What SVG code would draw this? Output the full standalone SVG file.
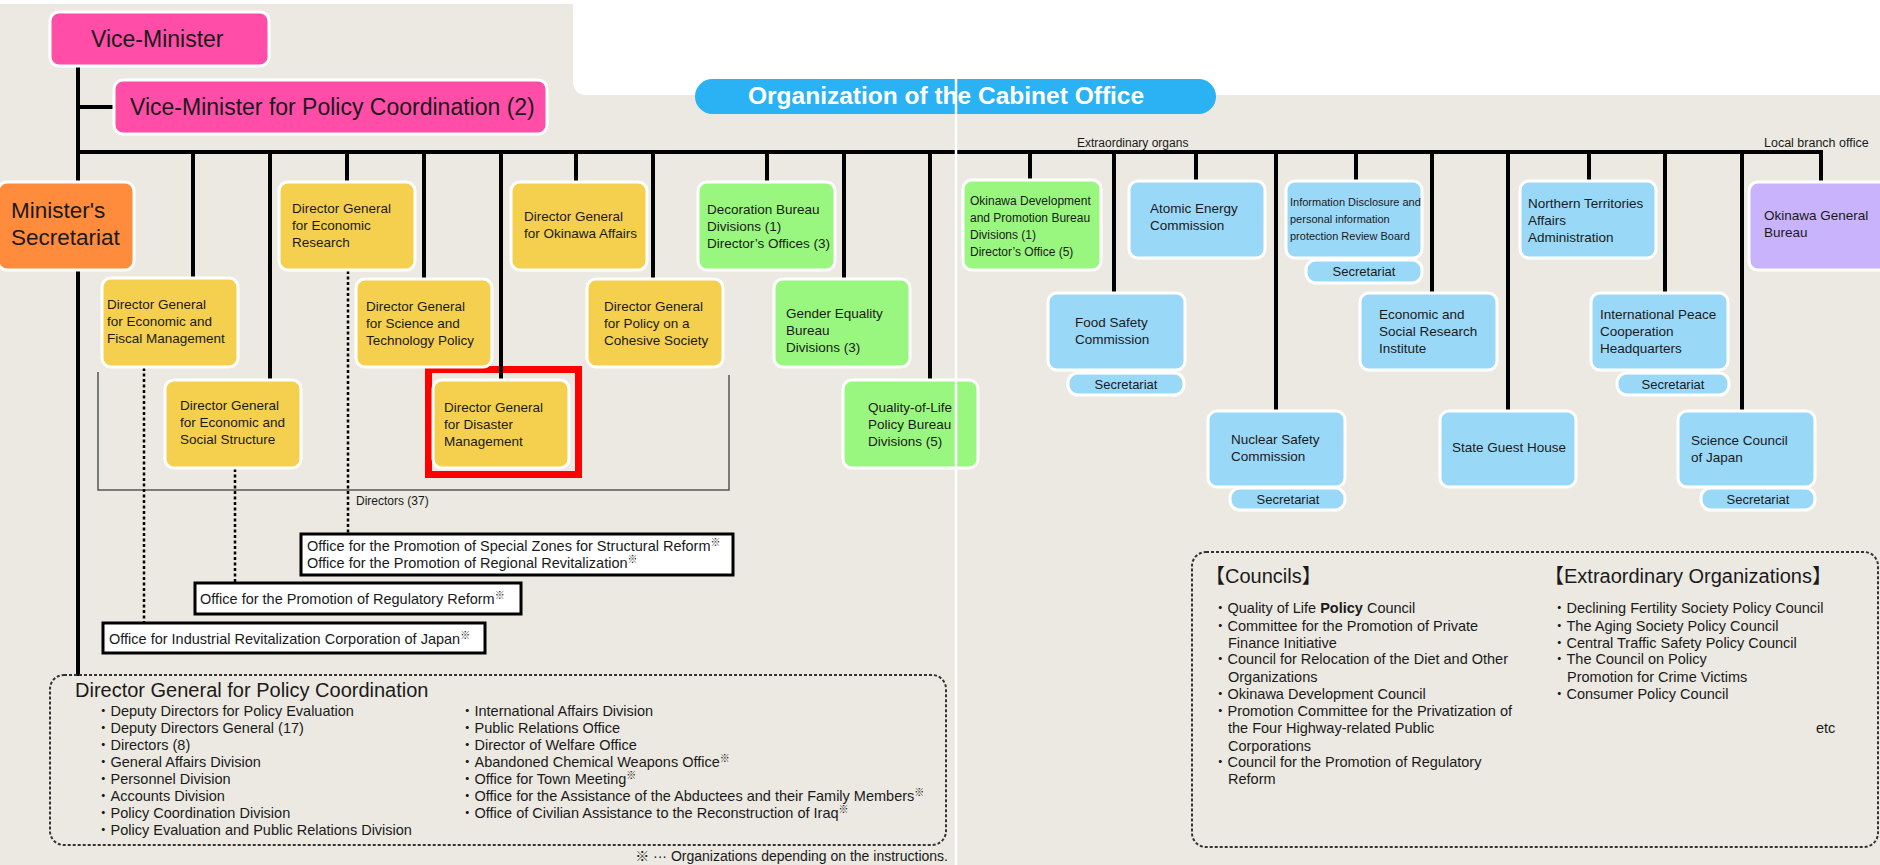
<svg xmlns="http://www.w3.org/2000/svg" width="1880" height="865" viewBox="0 0 1880 865">
<style>
text{font-family:"Liberation Sans",Arial,"Noto Sans CJK JP",sans-serif;fill:#1a1a1a}
.n rect{stroke:#fff;stroke-width:3}
.y{fill:#F5D04E}.g{fill:#99F77F}.b{fill:#9AD8F8}.p{fill:#C8B3FC}.pk{fill:#FF4DA8}.o{fill:#FF8B3C}
.t{font-size:13.5px}
.s{font-size:13px;text-anchor:middle}
.c line{stroke:#000;stroke-width:4}
.c .d{stroke-width:2.5;stroke-dasharray:3 2.5}
.ob rect{fill:#fff;stroke:#000;stroke-width:3}
.ob text{font-size:14.5px}
.db{fill:none;stroke:#333;stroke-width:2;stroke-dasharray:3 2}
.l{font-size:14.5px}
.sup{font-size:10px}
</style>
<rect width="1880" height="865" fill="#EBE9E1"/>
<rect width="1880" height="4" fill="#fff"/>
<path d="M573 0H1880V95H587Q573 95 573 81Z" fill="#fff"/>

<g id="title">
<rect x="695" y="79" width="521" height="35" rx="17.5" fill="#2AB2F4"/>
<text x="748" y="104" font-size="24.5" font-weight="bold" style="fill:#fff">Organization of the Cabinet Office</text>
</g>

<g id="directors-bracket">
<polyline points="98,372 98,490 729,490 729,375" fill="none" stroke="#555" stroke-width="1.5"/>
<text x="356" y="505" font-size="12">Directors (37)</text>
</g>

<rect id="highlight" x="428.5" y="369.5" width="150" height="105" fill="none" stroke="#FF0000" stroke-width="7"/>

<g id="connectors" class="c">
<line x1="78" y1="64" x2="78" y2="676"/>
<line x1="76" y1="107" x2="116" y2="107"/>
<line x1="76" y1="152" x2="1823" y2="152"/>
<line x1="193" y1="150" x2="193" y2="280"/>
<line x1="270" y1="150" x2="270" y2="382"/>
<line x1="347" y1="150" x2="347" y2="184"/>
<line x1="424" y1="150" x2="424" y2="281"/>
<line x1="501" y1="150" x2="501" y2="382"/>
<line x1="576" y1="150" x2="576" y2="184"/>
<line x1="653" y1="150" x2="653" y2="281"/>
<line x1="767" y1="150" x2="767" y2="184"/>
<line x1="844" y1="150" x2="844" y2="281"/>
<line x1="930" y1="150" x2="930" y2="382"/>
<line x1="1030" y1="150" x2="1030" y2="182"/>
<line x1="1114" y1="150" x2="1114" y2="295"/>
<line x1="1196" y1="150" x2="1196" y2="183"/>
<line x1="1276" y1="150" x2="1276" y2="413"/>
<line x1="1356" y1="150" x2="1356" y2="183"/>
<line x1="1432" y1="150" x2="1432" y2="295"/>
<line x1="1508" y1="150" x2="1508" y2="413"/>
<line x1="1589" y1="150" x2="1589" y2="183"/>
<line x1="1665" y1="150" x2="1665" y2="295"/>
<line x1="1742" y1="150" x2="1742" y2="413"/>
<line x1="1821" y1="150" x2="1821" y2="184"/>
<line class="d" x1="144" y1="368" x2="144" y2="622"/>
<line class="d" x1="235" y1="469" x2="235" y2="582"/>
<line class="d" x1="348" y1="271" x2="348" y2="533"/>
</g>

<g id="vice-minister" class="n"><rect class="pk" x="50" y="12" width="219" height="54" rx="9"/><text x="91" y="47" font-size="23">Vice-Minister</text></g>
<g id="vice-minister-policy" class="n"><rect class="pk" x="114" y="80" width="433" height="54" rx="9"/><text x="130" y="115" font-size="23">Vice-Minister for Policy Coordination (2)</text></g>
<g id="ministers-secretariat" class="n"><rect class="o" x="-2" y="182" width="136" height="88" rx="9"/><text x="11" y="218" font-size="22.5">Minister's</text><text x="11" y="245" font-size="22.5">Secretariat</text></g>

<g id="dg-econ-fiscal" class="n"><rect class="y" x="102" y="278" width="136" height="89" rx="9"/><text class="t" x="107" y="309">Director General</text><text class="t" x="107" y="326">for Economic and</text><text class="t" x="107" y="343">Fiscal Management</text></g>
<g id="dg-econ-social" class="n"><rect class="y" x="165" y="380" width="136" height="88" rx="9"/><text class="t" x="180" y="410">Director General</text><text class="t" x="180" y="427">for Economic and</text><text class="t" x="180" y="444">Social Structure</text></g>
<g id="dg-econ-research" class="n"><rect class="y" x="279" y="182" width="136" height="88" rx="9"/><text class="t" x="292" y="213">Director General</text><text class="t" x="292" y="230">for Economic</text><text class="t" x="292" y="247">Research</text></g>
<g id="dg-sci-tech" class="n"><rect class="y" x="356" y="279" width="136" height="88" rx="9"/><text class="t" x="366" y="311">Director General</text><text class="t" x="366" y="328">for Science and</text><text class="t" x="366" y="345">Technology Policy</text></g>
<g id="dg-disaster" class="n"><rect class="y" x="433" y="380" width="136" height="88" rx="9"/><text class="t" x="444" y="412">Director General</text><text class="t" x="444" y="429">for Disaster</text><text class="t" x="444" y="446">Management</text></g>
<g id="dg-okinawa" class="n"><rect class="y" x="511" y="182" width="136" height="88" rx="9"/><text class="t" x="524" y="221">Director General</text><text class="t" x="524" y="238">for Okinawa Affairs</text></g>
<g id="dg-cohesive" class="n"><rect class="y" x="587" y="279" width="136" height="88" rx="9"/><text class="t" x="604" y="311">Director General</text><text class="t" x="604" y="328">for Policy on a</text><text class="t" x="604" y="345">Cohesive Society</text></g>
<g id="decoration-bureau" class="n"><rect class="g" x="698" y="182" width="137" height="88" rx="9"/><text class="t" x="707" y="214">Decoration Bureau</text><text class="t" x="707" y="231">Divisions (1)</text><text class="t" x="707" y="248">Director’s Offices (3)</text></g>
<g id="gender-equality" class="n"><rect class="g" x="774" y="279" width="136" height="88" rx="9"/><text class="t" x="786" y="318">Gender Equality</text><text class="t" x="786" y="335">Bureau</text><text class="t" x="786" y="352">Divisions (3)</text></g>
<g id="quality-of-life" class="n"><rect class="g" x="843" y="380" width="135" height="88" rx="9"/><text class="t" x="868" y="412">Quality-of-Life</text><text class="t" x="868" y="429">Policy Bureau</text><text class="t" x="868" y="446">Divisions (5)</text></g>

<g id="okinawa-dev" class="n"><rect class="g" x="963" y="180" width="138" height="90" rx="9"/><text x="970" y="205" font-size="12">Okinawa Development</text><text x="970" y="222" font-size="12">and Promotion Bureau</text><text x="970" y="239" font-size="12">Divisions (1)</text><text x="970" y="256" font-size="12">Director’s Office (5)</text></g>
<g id="atomic-energy" class="n"><rect class="b" x="1129" y="181" width="136" height="77" rx="9"/><text class="t" x="1150" y="213">Atomic Energy</text><text class="t" x="1150" y="230">Commission</text></g>
<g id="info-disclosure" class="n"><rect class="b" x="1286" y="181" width="136" height="77" rx="9"/><text x="1290" y="206" font-size="11">Information Disclosure and</text><text x="1290" y="223" font-size="11">personal information</text><text x="1290" y="240" font-size="11">protection Review Board</text><rect class="b" x="1306" y="260" width="116" height="23" rx="10"/><text class="s" x="1364" y="276">Secretariat</text></g>
<g id="northern-territories" class="n"><rect class="b" x="1520" y="181" width="136" height="77" rx="9"/><text class="t" x="1528" y="208">Northern Territories</text><text class="t" x="1528" y="225">Affairs</text><text class="t" x="1528" y="242">Administration</text></g>
<g id="okinawa-general" class="n"><rect class="p" x="1749" y="182" width="145" height="88" rx="9"/><text class="t" x="1764" y="220">Okinawa General</text><text class="t" x="1764" y="237">Bureau</text></g>
<g id="food-safety" class="n"><rect class="b" x="1048" y="293" width="137" height="77" rx="9"/><text class="t" x="1075" y="327">Food Safety</text><text class="t" x="1075" y="344">Commission</text><rect class="b" x="1068" y="373" width="116" height="22" rx="10"/><text class="s" x="1126" y="389">Secretariat</text></g>
<g id="esri" class="n"><rect class="b" x="1360" y="293" width="137" height="77" rx="9"/><text class="t" x="1379" y="319">Economic and</text><text class="t" x="1379" y="336">Social Research</text><text class="t" x="1379" y="353">Institute</text></g>
<g id="intl-peace" class="n"><rect class="b" x="1591" y="293" width="137" height="77" rx="9"/><text class="t" x="1600" y="319">International Peace</text><text class="t" x="1600" y="336">Cooperation</text><text class="t" x="1600" y="353">Headquarters</text><rect class="b" x="1617" y="373" width="112" height="22" rx="10"/><text class="s" x="1673" y="389">Secretariat</text></g>
<g id="nuclear-safety" class="n"><rect class="b" x="1208" y="411" width="137" height="76" rx="9"/><text class="t" x="1231" y="444">Nuclear Safety</text><text class="t" x="1231" y="461">Commission</text><rect class="b" x="1230" y="488" width="115" height="22" rx="10"/><text class="s" x="1288" y="504">Secretariat</text></g>
<g id="state-guest-house" class="n"><rect class="b" x="1440" y="411" width="136" height="76" rx="9"/><text class="t" x="1509" y="452" text-anchor="middle">State Guest House</text></g>
<g id="science-council" class="n"><rect class="b" x="1678" y="411" width="137" height="76" rx="9"/><text class="t" x="1691" y="445">Science Council</text><text class="t" x="1691" y="462">of Japan</text><rect class="b" x="1701" y="488" width="114" height="22" rx="10"/><text class="s" x="1758" y="504">Secretariat</text></g>

<g id="labels-right">
<text x="1077" y="147" font-size="12">Extraordinary organs</text>
<text x="1764" y="147" font-size="12.5">Local branch office</text>
</g>

<g id="office-special-zones" class="ob"><rect x="301" y="534" width="432" height="41"/><text x="307" y="551">Office for the Promotion of Special Zones for Structural Reform<tspan class="sup" dy="-5">※</tspan></text><text x="307" y="568">Office for the Promotion of Regional Revitalization<tspan class="sup" dy="-5">※</tspan></text></g>
<g id="office-regulatory" class="ob"><rect x="195" y="583" width="326" height="31"/><text x="200" y="604">Office for the Promotion of Regulatory Reform<tspan class="sup" dy="-5">※</tspan></text></g>
<g id="office-industrial" class="ob"><rect x="103" y="623" width="382" height="30"/><text x="109" y="644">Office for Industrial Revitalization Corporation of Japan<tspan class="sup" dy="-5">※</tspan></text></g>

<g id="policy-coordination">
<rect class="db" x="50" y="675" width="896" height="170" rx="14"/>
<text x="75" y="697" font-size="20">Director General for Policy Coordination</text>
<text class="l" x="96" y="716">・Deputy Directors for Policy Evaluation</text>
<text class="l" x="96" y="733">・Deputy Directors General (17)</text>
<text class="l" x="96" y="750">・Directors (8)</text>
<text class="l" x="96" y="767">・General Affairs Division</text>
<text class="l" x="96" y="784">・Personnel Division</text>
<text class="l" x="96" y="801">・Accounts Division</text>
<text class="l" x="96" y="818">・Policy Coordination Division</text>
<text class="l" x="96" y="835">・Policy Evaluation and Public Relations Division</text>
<text class="l" x="460" y="716">・International Affairs Division</text>
<text class="l" x="460" y="733">・Public Relations Office</text>
<text class="l" x="460" y="750">・Director of Welfare Office</text>
<text class="l" x="460" y="767">・Abandoned Chemical Weapons Office<tspan class="sup" dy="-5">※</tspan></text>
<text class="l" x="460" y="784">・Office for Town Meeting<tspan class="sup" dy="-5">※</tspan></text>
<text class="l" x="460" y="801">・Office for the Assistance of the Abductees and their Family Members<tspan class="sup" dy="-5">※</tspan></text>
<text class="l" x="460" y="818">・Office of Civilian Assistance to the Reconstruction of Iraq<tspan class="sup" dy="-5">※</tspan></text>
</g>
<text id="footnote" x="948" y="861" font-size="14" text-anchor="end">※ ··· Organizations depending on the instructions.</text>

<g id="councils">
<rect class="db" x="1192" y="552" width="686" height="295" rx="14"/>
<text x="1205" y="583" font-size="20">【Councils】</text>
<text x="1544" y="583" font-size="20">【Extraordinary Organizations】</text>
<text class="l" x="1213" y="613">・Quality of Life <tspan font-weight="bold">Policy</tspan> Council</text>
<text class="l" x="1213" y="631">・Committee for the Promotion of Private</text>
<text class="l" x="1228" y="648">Finance Initiative</text>
<text class="l" x="1213" y="664">・Council for Relocation of the Diet and Other</text>
<text class="l" x="1228" y="682">Organizations</text>
<text class="l" x="1213" y="699">・Okinawa Development Council</text>
<text class="l" x="1213" y="716">・Promotion Committee for the Privatization of</text>
<text class="l" x="1228" y="733">the Four Highway-related Public</text>
<text class="l" x="1228" y="751">Corporations</text>
<text class="l" x="1213" y="767">・Council for the Promotion of Regulatory</text>
<text class="l" x="1228" y="784">Reform</text>
<text class="l" x="1552" y="613">・Declining Fertility Society Policy Council</text>
<text class="l" x="1552" y="631">・The Aging Society Policy Council</text>
<text class="l" x="1552" y="648">・Central Traffic Safety Policy Council</text>
<text class="l" x="1552" y="664">・The Council on Policy</text>
<text class="l" x="1567" y="682">Promotion for Crime Victims</text>
<text class="l" x="1552" y="699">・Consumer Policy Council</text>
<text class="l" x="1816" y="733">etc</text>
</g>

<line id="seam" x1="956" y1="70" x2="956" y2="865" stroke="#fff" stroke-width="2.5"/>
</svg>
